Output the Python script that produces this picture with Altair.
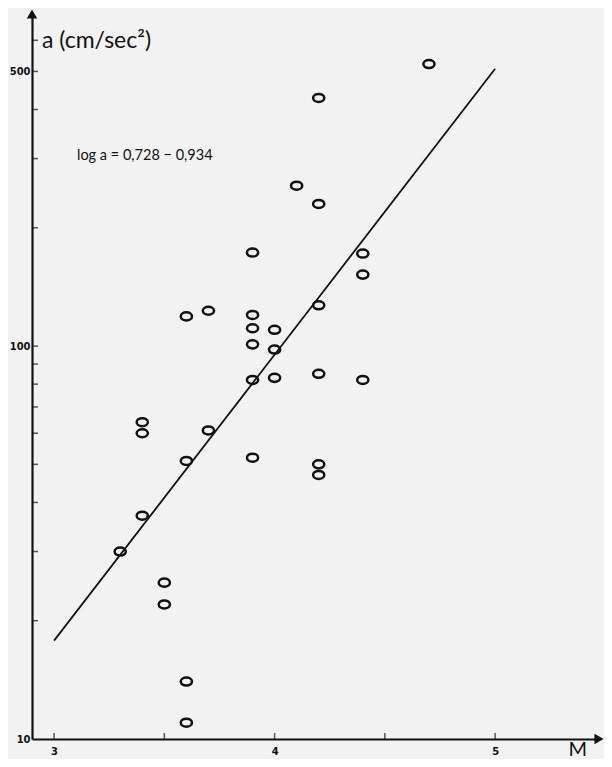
import altair as alt
import pandas as pd

# Data
mag = [4.7, 4.2, 4.1, 4.2, 3.9, 4.4, 4.4, 3.7, 3.6, 4.2, 3.9, 3.9, 4.0, 3.9, 4.0, 3.9,
       4.0, 4.2, 4.4, 3.4, 3.4, 3.7, 3.6, 3.9, 4.2, 4.2, 3.4, 3.3, 3.5, 3.5, 3.6, 3.6]
acc = [522, 428, 256, 230, 173, 172, 152, 123, 119, 127, 120, 111, 110, 101, 98, 82,
       83, 85, 82, 64, 60, 61, 51, 52, 50, 47, 37, 30, 25, 22, 14, 11]

line_m = [3.0, 5.0]
line_a = [17.8, 508]

x_ticks = [3, 3.5, 4, 4.5, 5]
x_labels = [3, 4, 5]
y_ticks = [20, 30, 40, 50, 60, 70, 80, 90, 100, 200, 300, 400, 500, 600]
y_labels = [10, 100, 500]

X_MIN, X_MAX = 2.9, 5.471
Y_MIN, Y_MAX = 10, 700

title_text = ["a (cm/sec²)"]
title_pos = [(2.945, 597)]
eq_text = ["log a = 0,728 − 0,934"]
eq_pos = [(3.104, 304)]
m_text = ["M"]
m_pos = [(5.375, 9.05)]

pts = pd.DataFrame({"M": mag, "a": acc})
line_df = pd.DataFrame({"M": line_m, "a": line_a})
xt_df = pd.DataFrame({"t": x_ticks})
yt_df = pd.DataFrame({"t": y_ticks})

xs = alt.Scale(domain=[X_MIN, X_MAX], nice=False, zero=False)
ys = alt.Scale(type="log", domain=[Y_MIN, Y_MAX], nice=False)

lab_font = "DejaVu Sans Condensed"

base_x = alt.X("M:Q", scale=xs,
               axis=alt.Axis(values=x_labels, ticks=False, grid=False, title=None,
                             domainColor="#111", domainWidth=2.2, labelPadding=6,
                             labelFont=lab_font, labelFontWeight="bold", labelFontSize=11,
                             labelColor="#111", format="d"))
base_y = alt.Y("a:Q", scale=ys,
               axis=alt.Axis(values=y_labels, ticks=False, grid=False, title=None,
                             domainColor="#111", domainWidth=2.2, labelPadding=2,
                             labelFont=lab_font, labelFontWeight="bold", labelFontSize=11,
                             labelColor="#111", format="d"))

ellipse = "M-1,0 A1,0.72 0 1,1 1,0 A1,0.72 0 1,1 -1,0 Z"

points = alt.Chart(pts).mark_point(shape=ellipse, size=125, filled=False,
                                   stroke="#111", strokeWidth=2.5, opacity=1).encode(
    x=base_x, y=base_y)

reg = alt.Chart(line_df).mark_line(color="#111", strokeWidth=1.8).encode(
    x=alt.X("M:Q", scale=xs), y=alt.Y("a:Q", scale=ys))

xt = alt.Chart(xt_df).mark_tick(orient="vertical", size=6, thickness=1.5,
                                color="#111", yOffset=-3).encode(
    x=alt.X("t:Q", scale=xs), y=alt.datum(Y_MIN, scale=ys))

yt = alt.Chart(yt_df).mark_tick(orient="horizontal", size=6, thickness=1.5,
                                color="#111", xOffset=3).encode(
    y=alt.Y("t:Q", scale=ys), x=alt.datum(X_MIN, scale=xs))

arrow_up = alt.Chart(pd.DataFrame({"k": [0]})).mark_point(
    shape="triangle-up", size=110, filled=True, color="#111", opacity=1).encode(
    x=alt.datum(X_MIN, scale=xs), y=alt.datum(Y_MAX, scale=ys))

arrow_right = alt.Chart(pd.DataFrame({"k": [0]})).mark_point(
    shape="triangle-right", size=110, filled=True, color="#111", opacity=1).encode(
    x=alt.datum(X_MAX, scale=xs), y=alt.datum(Y_MIN, scale=ys))

def label(texts, pos, size, align, baseline="middle"):
    df = pd.DataFrame({"txt": texts, "x": [p[0] for p in pos], "y": [p[1] for p in pos]})
    return alt.Chart(df).mark_text(font="Lato", fontSize=size, align=align,
                                   baseline=baseline, color="#111").encode(
        x=alt.X("x:Q", scale=xs), y=alt.Y("y:Q", scale=ys), text="txt:N")

t1 = label(title_text, title_pos, 23, "left")
t2 = label(eq_text, eq_pos, 14.5, "left")
t3 = label(m_text, m_pos, 20, "center", "alphabetic")

chart = alt.layer(reg, points, xt, yt, arrow_up, arrow_right, t1, t2, t3).properties(
    width=567, height=725,
    autosize=alt.AutoSizeParams(type="none"),
    padding={"left": 24, "top": 6, "right": 5, "bottom": 20},
    background="#f2f2f2",
).configure_view(stroke=None)

chart.save("out.html", embed_options={"renderer": "svg", "actions": False})
